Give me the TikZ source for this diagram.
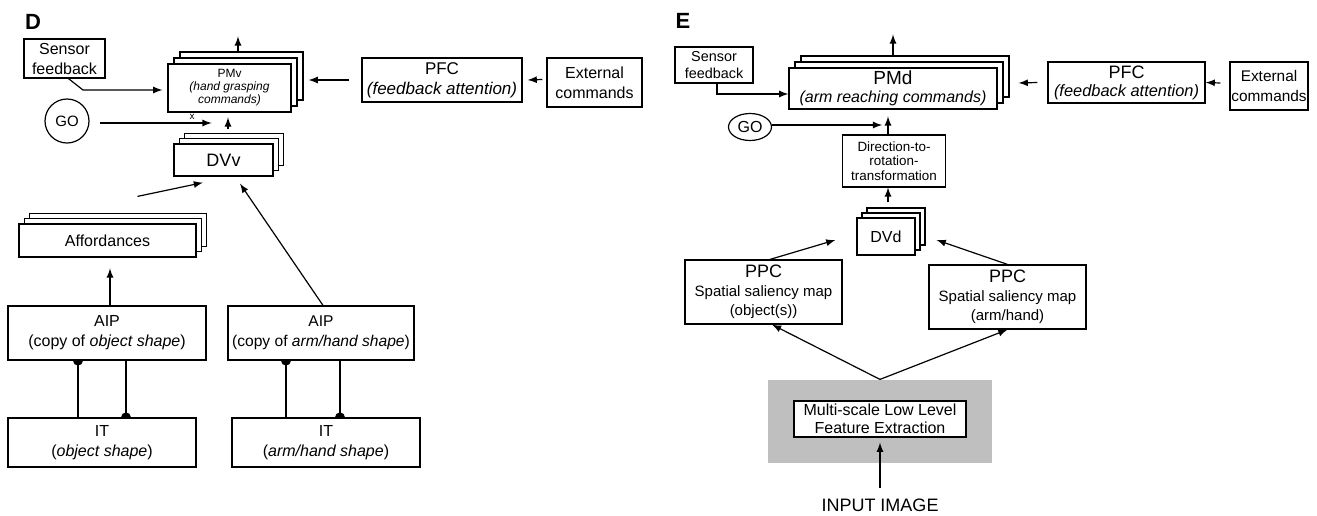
\documentclass[tikz,border=0pt]{standalone}
\usepackage{fontspec}
\setmainfont{Liberation Sans}
\usetikzlibrary{positioning}
\usetikzlibrary{positioning,shapes,shadows}

\newcommand{\fs}[2]{\fontsize{#1}{#2}\selectfont}

\begin{document}
\begin{tikzpicture}[x=0.5pt,y=-0.5pt,line width=0.6pt,
    box/.style={draw,fill=white,inner sep=0pt,align=center},
    sz/.style 2 args={minimum width=#1,minimum height=#2},
    stack/.style={box,copy shadow={shadow xshift=2*#1,shadow yshift=2*#1},
                  copy shadow={shadow xshift=#1,shadow yshift=#1}},
    stack/.default=3pt,
    arr/.style={-latex}]

\useasboundingbox (0,0) rectangle (1317,515);

% D
\node[font=\fs{11}{12}\bfseries] (labD) at (33,22) {D};
\node[box,sz={40.5pt}{19.5pt},font=\fs{8}{10}] (sensD) at (64.5,58.5) {Sensor\\feedback};
\node[stack,sz={61.5pt}{24pt},font=\fs{6}{6.5}\itshape] (pmv) at (229.5,88) {\upshape PMv\\(hand grasping\\commands)};
\node[box,sz={80pt}{22pt},font=\fs{8.5}{10}\itshape] (pfcD) at (442,80) {\upshape PFC\\(feedback attention)};
\node[box,sz={47.5pt}{24.5pt},font=\fs{8}{10}] (extD) at (594.5,82.5) {External\\commands};
\node[draw,circle,minimum size=22pt,inner sep=0pt,font=\fs{7.5}{9}] (goD) at (67,121) {GO};
\node[font=\fs{5}{5},inner sep=0pt] (xmark) at (192,117) {x};
\node[stack=2.6pt,sz={49.5pt}{16pt},font=\fs{9}{10}] (dvv) at (223.5,160) {DVv};
\node[stack=2.6pt,sz={88.5pt}{16.5pt},font=\fs{8}{10}] (aff) at (107.5,240.5) {Affordances};
\node[box,sz={99pt}{27pt},font=\fs{8}{10}] (aip1) at (107,333) {AIP\\(copy of \textit{object shape})};
\node[box,sz={94pt}{24.5pt},font=\fs{8}{10}] (it1) at (102,442.5) {IT\\(\textit{object shape})};
\node[box,sz={93pt}{27pt},font=\fs{7.8}{10}] (aip2) at (321,333) {AIP\\(copy of \textit{arm/hand shape})};
\node[box,sz={94pt}{24.5pt},font=\fs{8}{10}] (it2) at (326,442.5) {IT\\(\textit{arm/hand shape})};

\draw[arr] ([xshift=4.25pt,yshift=6pt]pmv.north) -- ++(0,-15);
\draw[arr] ([xshift=2pt]sensD.south) -- (83,90) -- ([xshift=-2.5pt,yshift=-1pt]pmv.west);
\draw[arr] ([xshift=-6pt]pfcD.west) -- ([xshift=8.5pt,yshift=4pt]pmv.east);
\draw[arr] ([xshift=-2pt,yshift=1.5pt]extD.west) -- ([xshift=2.5pt]pfcD.east);
\draw[arr] ([xshift=5pt,yshift=-1pt]goD.east) -- ++(112,0);
\draw[arr] ([xshift=2.25pt,yshift=7pt]dvv.north) -- ++(0,-12);
\draw[arr] ([xshift=15pt,yshift=13.5pt]aff.north) -- ([xshift=-10.25pt,yshift=-3pt]dvv.south);
\draw[arr] ([xshift=1pt]aip2.north) -- ([xshift=8.25pt,yshift=-3.5pt]dvv.south);
\draw[arr] ([xshift=1.5pt]aip1.north) -- ++(0,-37);

\foreach \n/\a/\b in {1/-14.5pt/9.5pt, 2/-17.5pt/9.5pt} {
    \draw ([xshift=\a]aip\n.south) coordinate (u\n) -- (u\n |- it\n.north);
    \fill (u\n) ++(-2.5pt,0pt) arc[start angle=180,end angle=360,radius=2.5pt] -- cycle;
    \draw ([xshift=\b]aip\n.south) coordinate (v\n) -- (v\n |- it\n.north) coordinate (w\n);
    \fill (w\n) ++(-2.5pt,0pt) arc[start angle=180,end angle=0,radius=2.5pt] -- cycle;
}

% E
\node[font=\fs{11}{12}\bfseries] (labE) at (683,21) {E};
\node[box,sz={39pt}{18pt},font=\fs{7.2}{8.6}] (sensE) at (714,65) {Sensor\\feedback};
\node[stack,sz={104pt}{20.5pt},font=\fs{8}{9}\itshape] (pmd) at (893,88.5) {\fs{9.5}{10}\upshape PMd\\(arm reaching commands)};
\node[box,sz={78.5pt}{20.5pt},font=\fs{8.2}{9}\itshape] (pfcE) at (1126.5,82.5) {\fs{9}{10}\upshape PFC\\(feedback attention)};
\node[box,sz={39pt}{24pt},font=\fs{7.7}{10}] (extE) at (1269,86) {External\\commands};
\node[draw,ellipse,minimum width=21.5pt,minimum height=13.5pt,inner sep=0pt,font=\fs{8}{9}] (goE) at (750,127) {GO};
\node[box,sz={51.5pt}{26pt},font=\fs{6.7}{7.2}] (dir) at (894,161) {Direction-to-\\rotation-\\transformation};
\node[stack=2.5pt,sz={29pt}{18.5pt},font=\fs{8}{9}] (dvd) at (886,236.5) {DVd};
\node[box,sz={78.5pt}{32pt},font=\fs{7.5}{9.5}] (ppc1) at (763.5,292) {\fs{9}{10}PPC\\Spatial saliency map\\(object(s))};
\node[box,sz={78.5pt}{32pt},font=\fs{7.5}{9.5}] (ppc2) at (1007.5,297) {\fs{9}{10}PPC\\Spatial saliency map\\(arm/hand)};
\node[fill=black!25,minimum width=112pt,minimum height=41.5pt] (grey) at (880,421.5) {};
\node[box,sz={86pt}{18pt},font=\fs{8}{9}] (mslf) at (880,419) {Multi-scale Low Level\\Feature Extraction};
\node[inner sep=0pt,font=\fs{9}{10}] (input) at (880,505) {INPUT IMAGE};

\draw[arr] ([yshift=6pt]pmd.north) -- ++(0,-21);
\draw[arr] ([xshift=1.5pt]sensE.south) |- ([yshift=-2.75pt]pmd.west);
\draw[arr] ([xshift=-5pt]pfcE.west) -- ([xshift=10.5pt,yshift=2.75pt]pmd.east);
\draw[arr] ([xshift=-4.5pt,yshift=1.5pt]extE.west) -- (pfcE.east);
\draw[arr] ([yshift=1pt]goE.east) -- ++(110,0);
\draw[arr] ([xshift=-3pt]dir.north) -- ++(0,-18);
\draw[arr] ([xshift=1pt,yshift=7.5pt]dvd.north) -- ++(0,-15);
\draw[arr] ([xshift=3.25pt]ppc1.north) -- ([xshift=-10.5pt,yshift=-1.75pt]dvd.west);
\draw[arr] (ppc2.north) -- ([xshift=10.5pt,yshift=-1.75pt]dvd.east);
\draw[arr] (grey.north) -- ([xshift=4.25pt]ppc1.south);
\draw[arr] (grey.north) -- (ppc2.south);
\draw[arr] ([yshift=5pt]input.north) -- ([yshift=-2.5pt]mslf.south);
\end{tikzpicture}
\end{document}
